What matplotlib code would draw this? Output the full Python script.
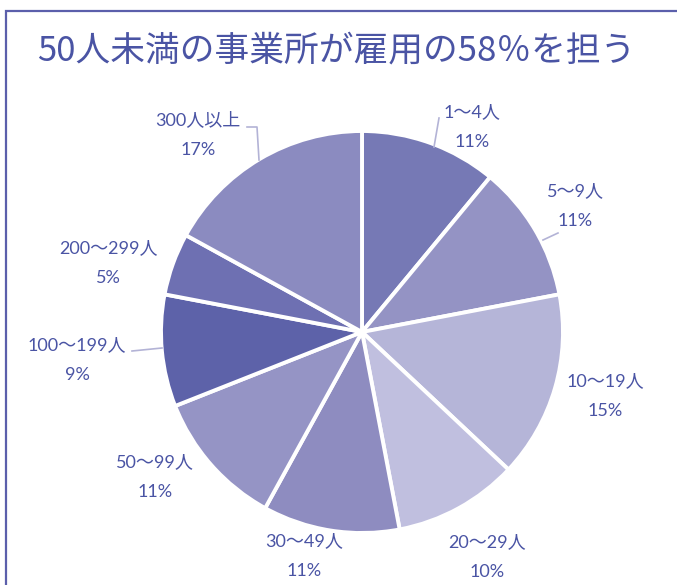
import matplotlib
matplotlib.use("Agg")
import matplotlib.pyplot as plt
from matplotlib.patches import Rectangle
import numpy as np

plt.rcParams['font.family'] = ['Noto Sans CJK JP', 'DejaVu Sans']

title = "50人未満の事業所が雇用の58％を担う"
categories = ["1～4人", "5～9人", "10～19人", "20～29人", "30～49人",
              "50～99人", "100～199人", "200～299人", "300人以上"]
values = [11, 11, 15, 10, 11, 11, 9, 5, 17]
colors = ["#7679b5", "#9493c4", "#b5b5d8", "#c0bfdf", "#8e8cc0",
          "#9594c5", "#5d62a9", "#6e70b2", "#8b8bc0"]
# label centers in figure pixels (x, y of the category line)
label_pos = [(472, 112), (575, 191), (605, 381), (487, 542), (304, 541),
             (155, 462), (77, 345), (108, 248), (198, 120)]
text_color = "#4a54a4"
line_color = "#b3b3d6"
label_font = ['Lato', 'Noto Sans CJK JP']

W, H = 677, 585
fig = plt.figure(figsize=(W / 100, H / 100), dpi=100)

# frame
fig.patches.append(Rectangle((6 / W, -0.1), 1.2, 1 - 11 / H + 0.1,
                             transform=fig.transFigure, fill=False,
                             edgecolor="#5b5fab", linewidth=1.6))

fig.text(336 / W, 1 - 51 / H, title, ha="center", va="center",
         fontsize=25, color=text_color)

cx, cy, r = 362, 332, 201
ax = fig.add_axes([(cx - r) / W, 1 - (cy + r) / H, 2 * r / W, 2 * r / H])
wedges, _ = ax.pie(values, colors=colors, startangle=90, counterclock=False,
                   wedgeprops=dict(edgecolor="white", linewidth=2.8))
ax.set_aspect("equal")
ax.set_xlim(-1, 1)
ax.set_ylim(-1, 1)
ax.axis("off")

for cat, v, (lx, ly) in zip(categories, values, label_pos):
    fig.text(lx / W, 1 - ly / H, cat, ha="center", va="center",
             fontsize=13, color=text_color, family=label_font)
    fig.text(lx / W, 1 - (ly + 30) / H, f"{v}%", ha="center", va="center",
             fontsize=13, color=text_color, family=label_font)

# leader lines (figure pixel paths)
leaders = [
    [(439, 118), (434, 147)],
    [(558, 233), (543, 240)],
    [(132, 351), (162, 348)],
    [(247, 127), (257, 127), (259, 160)],
]
for pts in leaders:
    xs = [p[0] / W for p in pts]
    ys = [1 - p[1] / H for p in pts]
    fig.add_artist(plt.Line2D(xs, ys, transform=fig.transFigure,
                              color=line_color, linewidth=1.2))

fig.savefig("out.png", dpi=100)
